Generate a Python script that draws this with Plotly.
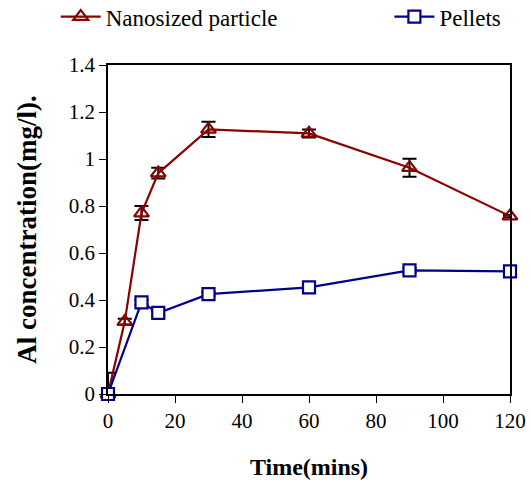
import plotly.graph_objects as go

time_nano = [0, 5, 10, 15, 30, 60, 90, 120]
nano = [0.0, 0.308, 0.77, 0.94, 1.126, 1.109, 0.963, 0.757]
nano_err_plus = [0.09, 0.012, 0.03, 0.023, 0.032, 0.017, 0.038, 0.005]
nano_err_minus = [0.0, 0.012, 0.03, 0.023, 0.032, 0.017, 0.038, 0.005]

time_pel = [0, 10, 15, 30, 60, 90, 120]
pellets = [0.0, 0.39, 0.345, 0.425, 0.454, 0.526, 0.522]
pel_err = [0.0, 0.01, 0.01, 0.008, 0.008, 0.01, 0.005]

x_ticks = [0, 20, 40, 60, 80, 100, 120]
y_ticks = [0, 0.2, 0.4, 0.6, 0.8, 1, 1.2, 1.4]
y_tick_text = ["0", "0.2", "0.4", "0.6", "0.8", "1", "1.2", "1.4"]

RED = "#8B0000"
BLUE = "#00008B"
FONT = "Liberation Serif"

fig = go.Figure()
fig.add_trace(go.Scatter(
    x=time_nano, y=nano, name="Nanosized particle", mode="lines+markers",
    line=dict(color=RED, width=2.2),
    marker=dict(symbol="triangle-up-open", size=13, color=RED, line=dict(width=2.2, color=RED)),
    error_y=dict(type="data", array=nano_err_plus, arrayminus=nano_err_minus,
                 color="black", thickness=2, width=7),
    cliponaxis=False, legend="legend",
))
fig.add_trace(go.Scatter(
    x=time_pel, y=pellets, name="Pellets", mode="lines+markers",
    line=dict(color=BLUE, width=2.2),
    marker=dict(symbol="square", size=12, color="white", line=dict(width=2.2, color=BLUE)),
    error_y=dict(type="data", array=pel_err, color="black", thickness=2, width=7),
    cliponaxis=False, legend="legend2",
))

fig.update_layout(
    width=531, height=491,
    margin=dict(l=108, r=21, t=65, b=97),
    paper_bgcolor="white", plot_bgcolor="white",
    font=dict(family=FONT, size=21, color="black"),
    showlegend=True,
    legend=dict(yref="container", x=-0.13, y=0.966, xanchor="left", yanchor="middle",
                font=dict(family=FONT, size=23), bgcolor="rgba(0,0,0,0)",
                itemwidth=40),
    legend2=dict(yref="container", x=0.70, y=0.966, xanchor="left", yanchor="middle",
                 font=dict(family=FONT, size=23), bgcolor="rgba(0,0,0,0)",
                 itemwidth=40),
    xaxis=dict(range=[0, 120], tickvals=x_ticks, showgrid=False, zeroline=False,
               showline=True, linecolor="black", linewidth=1.5, mirror=True,
               ticks="outside", ticklen=7, tickwidth=1.2, tickcolor="black",
               automargin=False,
               tickfont=dict(family=FONT, size=21),
               title=dict(text="<b>Time(mins)</b>", font=dict(family=FONT, size=24), standoff=26)),
    yaxis=dict(range=[0, 1.4], tickvals=y_ticks, ticktext=y_tick_text, showgrid=False,
               zeroline=False, showline=True, linecolor="black", linewidth=1.5, mirror=True,
               ticks="outside", ticklen=7, tickwidth=1.2, tickcolor="black",
               automargin=False,
               tickfont=dict(family=FONT, size=21),
               title=dict(text="<b>Al concentration(mg/l).</b>", font=dict(family=FONT, size=27), standoff=24)),
)

fig.write_html("out.html")
